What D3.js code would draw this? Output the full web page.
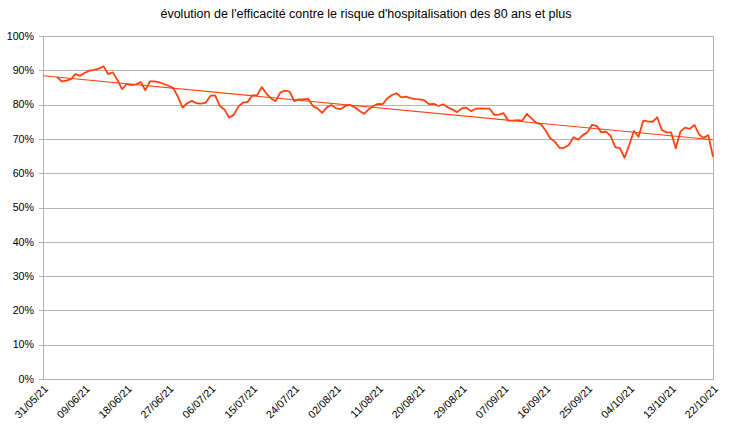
<!DOCTYPE html>
<html><head><meta charset="utf-8">
<script src="https://cdn.jsdelivr.net/npm/d3@7"></script>
<style>
html,body{margin:0;padding:0;background:#fff;}
svg{display:block;font-family:"Liberation Sans",Arial,sans-serif;}
</style></head>
<body><svg id="c" width="731" height="431"></svg>
<script>
const title = "évolution de l'efficacité contre le risque d'hospitalisation des 80 ans et plus";
const axisStart = "2021-05-31";
const axisEnd = "2021-10-22";
const firstDate = "2021-06-03";
const tickLabels = ["31/05/21","09/06/21","18/06/21","27/06/21","06/07/21","15/07/21","24/07/21","02/08/21","11/08/21","20/08/21","29/08/21","07/09/21","16/09/21","25/09/21","04/10/21","13/10/21","22/10/21"];
const yTicks = [0,10,20,30,40,50,60,70,80,90,100];
const values = [
88.0,86.8,87.0,87.4,88.9,88.4,89.3,89.9,90.1,90.5,91.2,88.9,89.4,87.2,84.5,86.0,85.7,85.9,86.6,84.2,
86.8,86.8,86.5,86.0,85.5,84.8,82.3,79.1,80.4,81.1,80.4,80.3,80.6,82.6,82.7,79.6,78.6,76.2,77.0,79.4,
80.6,80.8,82.7,82.7,85.1,83.3,81.8,81.0,83.5,84.1,83.8,81.0,81.5,81.5,81.7,79.6,78.9,77.6,79.2,79.9,
78.9,78.7,79.6,79.9,79.2,78.2,77.3,78.6,79.6,80.2,80.1,81.8,82.8,83.3,82.1,82.3,81.9,81.6,81.5,81.2,
80.1,80.2,79.6,80.1,79.2,78.6,77.8,78.9,79.1,78.1,78.8,78.9,78.8,78.8,77.0,77.1,77.5,75.3,75.3,75.5,
75.3,77.3,76.0,74.7,74.3,72.5,70.2,69.2,67.4,67.4,68.2,70.5,69.8,71.1,71.9,74.1,73.8,71.9,72.1,70.9,
67.6,67.3,64.5,68.2,72.3,70.6,75.3,75.1,75.0,76.3,72.6,71.9,71.9,67.3,72.1,73.3,72.9,74.1,71.3,70.3,
71.1,64.8];

const color = "#ff420e";
const grid = "#b3b3b3";
const svg = d3.select("#c");
const pLeft = 43, pRight = 713, pTop = 36, pBottom = 379;

const parse = d3.utcParse("%Y-%m-%d");
const d0 = parse(axisStart), d1 = parse(axisEnd), df = parse(firstDate);
const data = values.map((v,i)=>({date:d3.utcDay.offset(df,i), v}));

const x = d3.scaleUtc().domain([d0,d1]).range([pLeft,pRight]);
const y = d3.scaleLinear().domain([0,100]).range([pBottom,pTop]);

// title
svg.append("text").attr("x",366).attr("y",18).attr("text-anchor","middle")
  .style("font-size","12.5px").attr("fill","#000").text(title);

// gridlines
svg.append("g").selectAll("line").data(yTicks).join("line")
  .attr("x1",pLeft-4).attr("x2",pRight)
  .attr("y1",d=>Math.round(y(d))+0.5).attr("y2",d=>Math.round(y(d))+0.5)
  .attr("stroke",grid).attr("stroke-width",1);
// axis lines
svg.append("line").attr("x1",pLeft+0.5).attr("x2",pLeft+0.5).attr("y1",pTop).attr("y2",pBottom+1)
  .attr("stroke",grid);
svg.append("line").attr("x1",pRight+0.5).attr("x2",pRight+0.5).attr("y1",pTop).attr("y2",pBottom+1)
  .attr("stroke",grid);

// y labels
svg.append("g").selectAll("text").data(yTicks).join("text")
  .attr("x",pLeft-9).attr("y",d=>y(d)).attr("dy","0.35em").attr("text-anchor","end")
  .style("font-size","10.67px").attr("fill","#000").text(d=>d+"%");

// x labels
const tickDates = tickLabels.map(s=>d3.utcParse("%d/%m/%y")(s));
svg.append("g").selectAll("text").data(tickDates).join("text")
  .attr("transform",(d,i)=>`translate(${x(d)+3},${pBottom+8}) rotate(-45)`)
  .attr("text-anchor","end").attr("dy","0.35em")
  .style("font-size","10.67px").attr("fill","#000").text((d,i)=>tickLabels[i]);

// trend line (linear regression)
const xs = data.map(d=>(d.date-d0)/864e5), ys = data.map(d=>d.v);
const mx = d3.mean(xs), my = d3.mean(ys);
const slope = d3.sum(xs.map((xi,i)=>(xi-mx)*(ys[i]-my)))/d3.sum(xs.map(xi=>(xi-mx)**2));
const icpt = my - slope*mx;
const span = (d1-d0)/864e5;
svg.append("line")
  .attr("x1",x(d0)).attr("y1",y(icpt))
  .attr("x2",x(d1)).attr("y2",y(icpt+slope*span))
  .attr("stroke",color).attr("stroke-width",1.1);

// data line
svg.append("path").datum(data)
  .attr("d",d3.line().x(d=>x(d.date)).y(d=>y(d.v)))
  .attr("fill","none").attr("stroke",color).attr("stroke-width",1.8)
  .attr("stroke-linejoin","round");
</script></body></html>
